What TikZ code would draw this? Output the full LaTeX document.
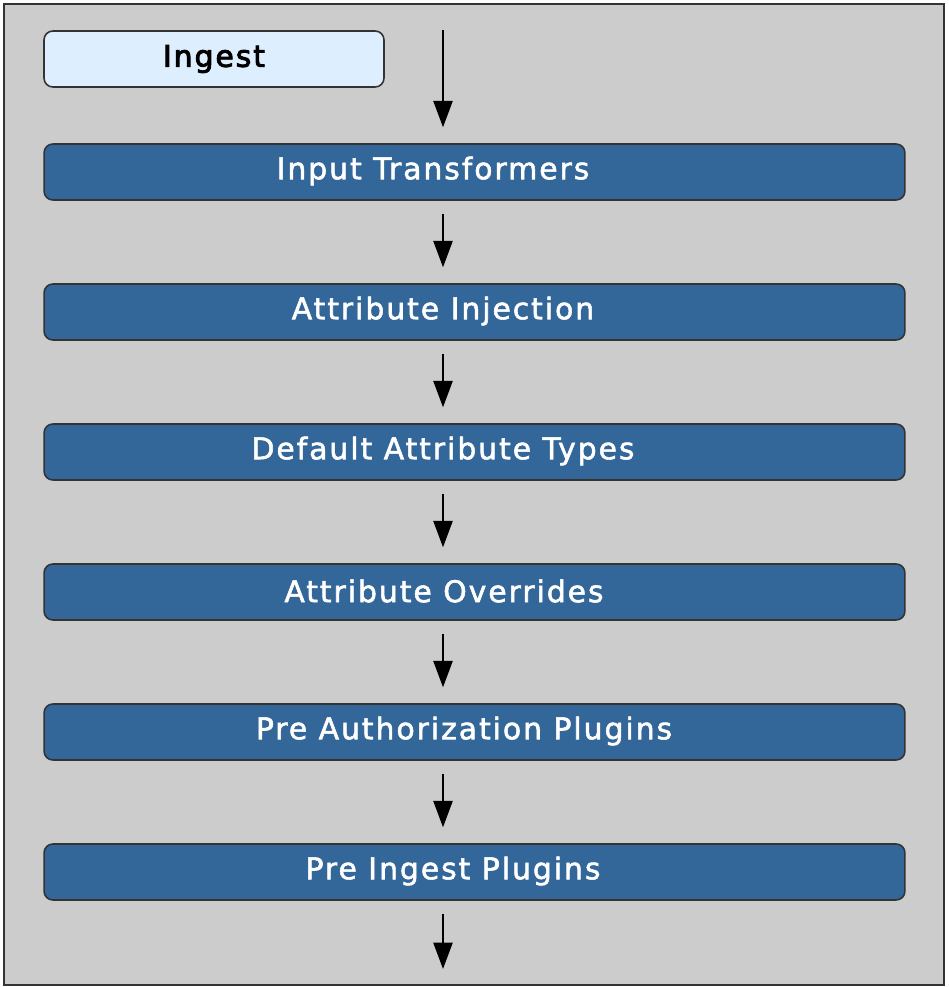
\documentclass[tikz,border=0pt]{standalone}
\usepackage{fontspec}
\setmainfont{DejaVu Sans}[LetterSpace=6.5, FakeBold=1.8]
\usepackage{tikz}
\usetikzlibrary{arrows.meta, positioning, calc}
\definecolor{framegray}{HTML}{CCCCCC}
\definecolor{stageblue}{HTML}{336699}
\definecolor{ingestfill}{HTML}{DDEEFF}
\definecolor{edgegray}{HTML}{333333}

\begin{document}
\begin{tikzpicture}[x=0.02cm, y=-0.02cm,
    stage/.style={draw=edgegray, line width=0.9pt, fill=stageblue, rounded corners=5pt,
      minimum width=17.22cm, minimum height=1.12cm, inner sep=0pt},
    stagetext/.style={text=white, inner sep=0pt, font=\fontsize{17}{19}\selectfont},
    ingestbox/.style={stage, fill=ingestfill, text=black, minimum width=6.8cm,
      font=\fontsize{17}{19}\selectfont\addfontfeature{FakeBold=3}},
    flow/.style={-{Triangle[length=15pt, width=11pt]}, line width=0.8pt}
  ]
  % Page and outer frame
  \useasboundingbox (0,0) rectangle (948,987);
  \node[draw=edgegray, line width=1.2pt, fill=framegray, minimum width=18.8cm,
    minimum height=19.62cm, inner sep=0pt] (frame) at (474,494.5) {};

  % Top label
  \node[ingestbox] (ingest) at (214,59) {Ingest};

  % Processing stages (labels sit slightly off the box centre)
  \foreach \i/\tx/\label in {1/433/Input Transformers, 2/443/Attribute Injection,
      3/443/Default Attribute Types, 4/444/Attribute Overrides,
      5/464/Pre Authorization Plugins, 6/453/Pre Ingest Plugins} {
    \node[stage] (s\i) at (474.5, 172+140*\i-140) {};
    \node[stagetext] (t\i) at (\tx, 171+140*\i-140) {\label};
  }

  % Arrows
  \coordinate (ax) at (443,0);
  \draw[flow, shorten >=9.1pt] (ingest.north -| ax) -- (s1.north -| ax);
  \foreach \i [evaluate=\i as \j using int(\i+1)] in {1,...,5} {
    \draw[flow, shorten <=7.4pt, shorten >=9.1pt] (s\i.south -| ax) -- (s\j.north -| ax);
  }
  \draw[flow, shorten <=7.4pt, shorten >=9.7pt] (s6.south -| ax) -- (frame.south -| ax);
\end{tikzpicture}
\end{document}
